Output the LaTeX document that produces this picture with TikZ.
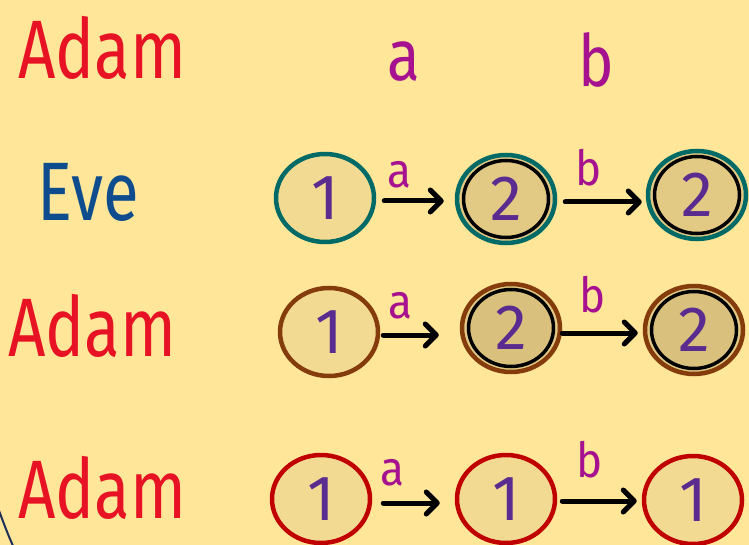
\documentclass[tikz,border=0pt]{standalone}
\usepackage{fontspec}
\setmainfont{Fira Sans}
\usetikzlibrary{shapes.geometric,arrows.meta}
\definecolor{paper}{HTML}{FFE699}
\definecolor{pen red}{HTML}{E71224}
\definecolor{pen purple}{HTML}{A6118F}
\definecolor{pen blue}{HTML}{0E4C8E}
\definecolor{digit}{HTML}{5B2C8F}
\definecolor{ring teal}{HTML}{006B66}
\definecolor{ring brown}{HTML}{843C0C}
\definecolor{ring red}{HTML}{C00000}
\definecolor{state fill}{HTML}{F2DA93}
\definecolor{accept fill}{HTML}{E2CA85}
\definecolor{accept fill dark}{HTML}{D9C07D}
\definecolor{frame navy}{HTML}{1F2F5A}
\tikzset{
  name label/.style={font=\fontsize{68}{68}\selectfont, inner sep=0pt, yscale=1.22, xscale=0.96},
  letter label/.style={text=pen purple, font=\fontsize{60}{60}\selectfont, inner sep=0pt, yscale=1.2},
  edge letter/.style={text=pen purple, font=\fontsize{44}{44}\selectfont, inner sep=0pt, yscale=1.1},
  digit text/.style={text=digit, font=\fontsize{64}{64}\selectfont, inner sep=0pt},
  state/.style={ellipse, draw, line width=4.5pt, fill=state fill, inner sep=0pt,
    minimum width=98pt, minimum height=88pt, digit text},
  inner ring/.style={ellipse, draw=black, line width=3.5pt, inner sep=0pt,
    minimum width=85pt, minimum height=77pt},
  trans/.style={line width=5pt, line cap=round, black,
    -{Straight Barb[length=11pt, width=22pt, line width=5pt, round]}},
}
\begin{document}
\begin{tikzpicture}[x=1pt, y=-1pt]
  \fill[paper] (0,0) rectangle (749,545);
  \useasboundingbox (0,0) rectangle (749,545);

  % edge of the frame in the lower left corner
  \draw[frame navy, line width=2pt] (-2,508) .. controls (4,524) and (8,535) .. (14,548);

  % header row
  \node[name label, text=pen red] (hAdam) at (102,48) {Adam};
  \node[letter label] (ha) at (404,62) {a};
  \node[letter label] (hb) at (596,60) {b};

  % row names
  \node[name label, text=pen blue] (nEve) at (88,192) {Eve};
  \node[name label, text=pen red] (nAdamA) at (92,326) {Adam};
  \node[name label, text=pen red] (nAdamB) at (102,488) {Adam};

  % Eve's run
  \node[state, draw=ring teal] (e1) at (325,198) {1};
  \node[state, draw=ring teal, fill=accept fill] (e2) at (506,199) {};
  \node[inner ring, fill=accept fill] (e2i) at (e2.center) {};
  \node[digit text] at (e2.center) {2};
  \node[state, draw=ring teal, fill=accept fill] (e3) at (697,195) {};
  \node[inner ring, fill=accept fill] (e3i) at (e3.center) {};
  \node[digit text] at (e3.center) {2};
  \draw[trans, shorten <=8pt, shorten >=11pt] (e1.east) ++(0,3) coordinate (e1o) -- (e2.west |- e1o)
    node[edge letter, pos=0.30, above=9pt] {a};
  \draw[trans, shorten <=8pt, shorten >=4pt] (e2.east) ++(0,3) coordinate (e2o) -- (e3.west |- e2o)
    node[edge letter, pos=0.35, above=12pt] {b};

  % first Adam run
  \node[state, draw=ring brown] (a1) at (329,332) {1};
  \node[state, draw=ring brown, fill=accept fill] (a2) at (511,328) {};
  \node[inner ring, fill=accept fill dark] (a2i) at (a2.center) {};
  \node[digit text] at (a2.center) {2};
  \node[state, draw=ring brown, fill=accept fill] (a3) at (694,330) {};
  \node[inner ring, fill=accept fill dark] (a3i) at (a3.center) {};
  \node[digit text] at (a3.center) {2};
  \draw[trans, shorten <=3pt, shorten >=21pt] (a1.east) ++(0,3) coordinate (a1o) -- (a2.west |- a1o)
    node[edge letter, pos=0.25, above=12pt] {a};
  \draw[trans, shorten <=0pt, shorten >=5pt] (a2.east) ++(0,5) coordinate (a2o) -- (a3.west |- a2o)
    node[edge letter, pos=0.38, above=16pt] {b};

  % second Adam run
  \node[state, draw=ring red] (b1) at (321,499) {1};
  \node[state, draw=ring red] (b2) at (506,499) {1};
  \node[state, draw=ring red] (b3) at (693,500) {1};
  \draw[trans, shorten <=11pt, shorten >=15pt] (b1.east) ++(0,4) coordinate (b1o) -- (b2.west |- b1o)
    node[edge letter, pos=0.25, above=13pt] {a};
  \draw[trans, shorten <=5pt, shorten >=5pt] (b2.east) ++(0,2) coordinate (b2o) -- (b3.west |- b2o)
    node[edge letter, pos=0.38, above=18pt] {b};
\end{tikzpicture}
\end{document}
